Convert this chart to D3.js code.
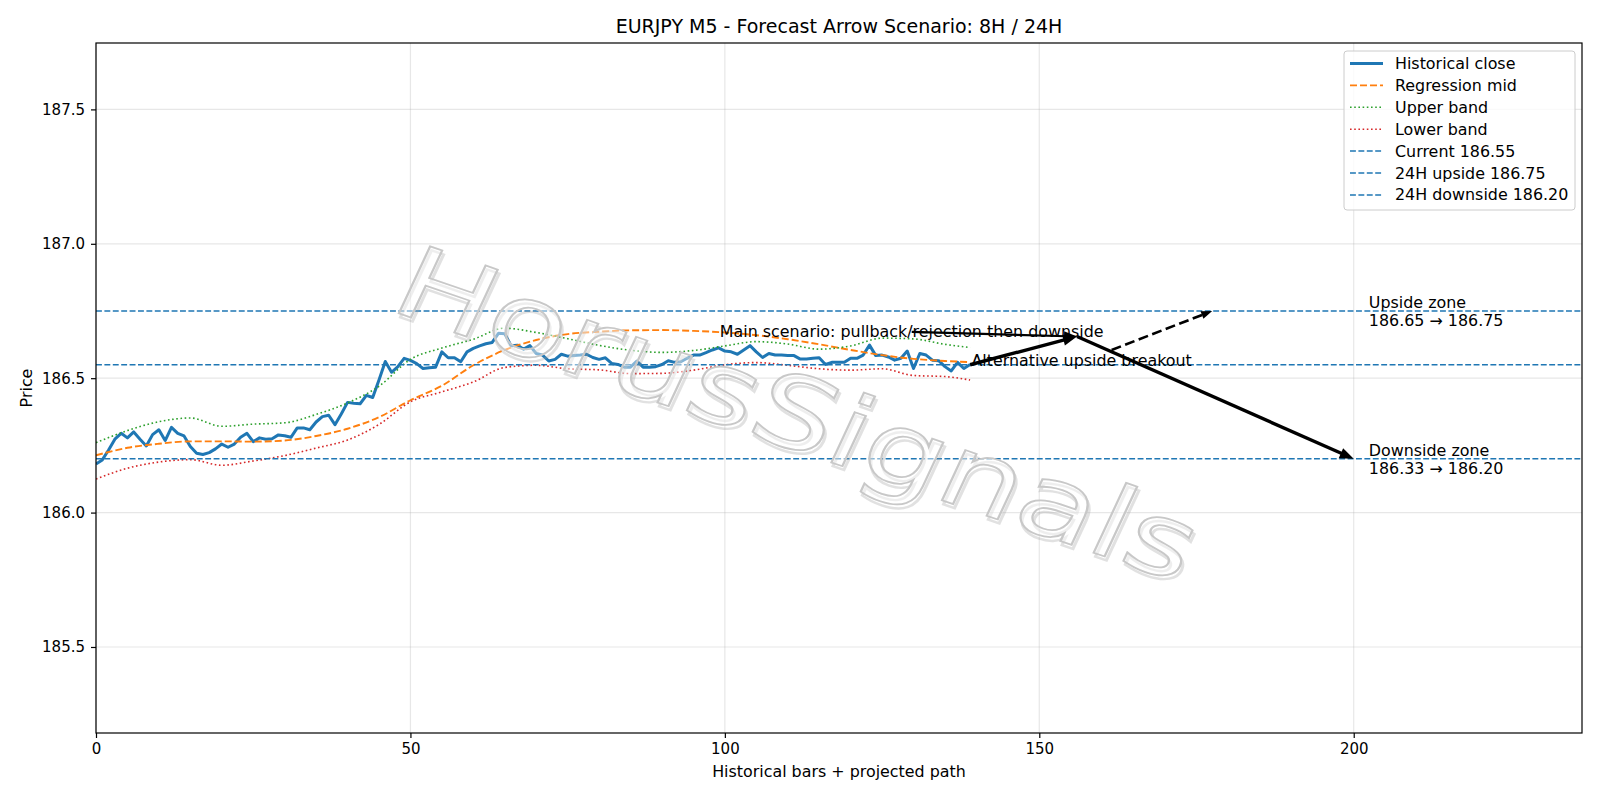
<!DOCTYPE html>
<html>
<head>
<meta charset="utf-8">
<script src="https://cdn.jsdelivr.net/npm/d3@7/dist/d3.min.js"></script>
<style>
  body { margin: 0; background: #ffffff; }
  svg text { font-family: 'DejaVu Sans', sans-serif; fill: #000; }
  .grid line { stroke: #b0b0b0; stroke-opacity: 0.3; stroke-width: 1.2; }
  .axis path { display: none; }
  .axis line { stroke: #000; stroke-width: 1.2; }
  .axis text { font-size: 15px; }
</style>
</head>
<body>
<script>
// historical close, one value per bar (0..139)
var closeValues = [
  186.181, 186.196, 186.233, 186.273, 186.295, 186.278, 186.300, 186.273, 186.248, 186.290,
  186.308, 186.268, 186.317, 186.295, 186.285, 186.246, 186.221, 186.216, 186.223, 186.237,
  186.255, 186.243, 186.255, 186.280, 186.295, 186.264, 186.278, 186.273, 186.275, 186.289,
  186.286, 186.280, 186.315, 186.315, 186.308, 186.337, 186.357, 186.362, 186.327, 186.367,
  186.410, 186.407, 186.405, 186.436, 186.428, 186.493, 186.562, 186.522, 186.543, 186.574,
  186.566, 186.554, 186.536, 186.539, 186.541, 186.598, 186.576, 186.576, 186.561, 186.598,
  186.611, 186.620, 186.628, 186.633, 186.667, 186.665, 186.621, 186.623, 186.608, 186.621,
  186.592, 186.586, 186.564, 186.570, 186.589, 186.582, 186.584, 186.586, 186.589, 186.577,
  186.570, 186.576, 186.555, 186.551, 186.541, 186.541, 186.564, 186.541, 186.541, 186.543,
  186.551, 186.565, 186.559, 186.561, 186.574, 186.586, 186.586, 186.595, 186.605, 186.613,
  186.601, 186.598, 186.589, 186.605, 186.621, 186.598, 186.577, 186.592, 186.586, 186.586,
  186.584, 186.584, 186.571, 186.571, 186.574, 186.576, 186.551, 186.559, 186.559, 186.559,
  186.574, 186.574, 186.586, 186.623, 186.584, 186.586, 186.579, 186.567, 186.574, 186.601,
  186.536, 186.592, 186.586, 186.567, 186.565, 186.543, 186.527, 186.559, 186.536, 186.551
];

// regression channel, read every 5 bars
var bandBars = [0, 5, 10, 15, 20, 25, 30, 35, 40, 45, 50, 55, 60, 65, 70, 75, 80, 85, 90, 95,
  100, 105, 110, 115, 120, 125, 130, 135, 139];
var midValues = [186.213, 186.241, 186.256, 186.265, 186.265, 186.264, 186.268, 186.285, 186.312, 186.355,
  186.418, 186.472, 186.548, 186.605, 186.642, 186.664, 186.673, 186.678, 186.679, 186.676,
  186.670, 186.660, 186.645, 186.626, 186.605, 186.586, 186.572, 186.564, 186.560];
var upperValues = [186.260, 186.305, 186.338, 186.352, 186.321, 186.329, 186.334, 186.365, 186.408, 186.470,
  186.570, 186.612, 186.645, 186.686, 186.670, 186.647, 186.622, 186.604, 186.596, 186.603,
  186.620, 186.636, 186.627, 186.608, 186.620, 186.649, 186.646, 186.626, 186.614];
var lowerValues = [186.125, 186.165, 186.188, 186.197, 186.176, 186.192, 186.212, 186.240, 186.270, 186.328,
  186.412, 186.449, 186.486, 186.540, 186.548, 186.535, 186.531, 186.517, 186.518, 186.530,
  186.550, 186.558, 186.548, 186.535, 186.530, 186.535, 186.510, 186.506, 186.493];

// reference levels
var levelNames = ['Current 186.55', '24H upside 186.75', '24H downside 186.20'];
var levelValues = [186.55, 186.75, 186.20];

// projected path: current -> rejection point -> downside target
var pathBars = [139, 156, 200];
var pathPrices = [186.55, 186.655, 186.20];
// alternative breakout arrow
var altBars = [161.5, 177.5];
var altPrices = [186.605, 186.75];

var xTicks = [0, 50, 100, 150, 200];
var yTicks = [185.5, 186.0, 186.5, 187.0, 187.5];

var W = 1600, H = 800;
var m = { top: 43, right: 18, bottom: 67, left: 96 };
var fs = 15.9;

var svg = d3.select('body').append('svg')
  .attr('width', W).attr('height', H);

var x = d3.scaleLinear().domain([0, 236.3]).range([m.left, W - m.right]);
var y = d3.scaleLinear().domain([185.18, 187.747]).range([H - m.bottom, m.top]);

var blue = '#1f77b4';

//grid
svg.append('g').attr('class', 'grid')
  .selectAll('line.gx').data(xTicks).enter().append('line')
  .attr('x1', d => x(d)).attr('x2', d => x(d))
  .attr('y1', m.top).attr('y2', H - m.bottom);
svg.append('g').attr('class', 'grid')
  .selectAll('line.gy').data(yTicks).enter().append('line')
  .attr('x1', m.left).attr('x2', W - m.right)
  .attr('y1', d => y(d)).attr('y2', d => y(d));

//axes
svg.append('g').attr('class', 'axis')
  .attr('transform', `translate(0, ${H - m.bottom})`)
  .call(d3.axisBottom(x).tickValues(xTicks).tickSize(5).tickPadding(5).tickFormat(d3.format('d')));
svg.append('g').attr('class', 'axis')
  .attr('transform', `translate(${m.left}, 0)`)
  .call(d3.axisLeft(y).tickValues(yTicks).tickSize(5).tickPadding(6).tickFormat(d3.format('.1f')));

// clip for data
svg.append('clipPath').attr('id', 'clip').append('rect')
  .attr('x', m.left).attr('y', m.top)
  .attr('width', W - m.left - m.right).attr('height', H - m.top - m.bottom);
var plot = svg.append('g').attr('clip-path', 'url(#clip)');

var line = d3.line().x(d => x(d[0])).y(d => y(d[1]));
var smooth = d3.line().x(d => x(d[0])).y(d => y(d[1])).curve(d3.curveMonotoneX);

var closePts = closeValues.map((v, i) => [i, v]);
var midPts = bandBars.map((b, i) => [b, midValues[i]]);
var upPts = bandBars.map((b, i) => [b, upperValues[i]]);
var lowPts = bandBars.map((b, i) => [b, lowerValues[i]]);

var series = [
  { name: 'Historical close', color: blue, width: 3, dash: null },
  { name: 'Regression mid', color: '#ff7f0e', width: 1.9, dash: '7,3' },
  { name: 'Upper band', color: '#2ca02c', width: 1.6, dash: '1.6,2.6' },
  { name: 'Lower band', color: '#d62728', width: 1.6, dash: '1.6,2.6' }
];

plot.append('path').datum(closePts)
  .attr('d', line).attr('fill', 'none')
  .attr('stroke', blue).attr('stroke-width', series[0].width).attr('stroke-linejoin', 'round');
plot.append('path').datum(midPts)
  .attr('d', smooth).attr('fill', 'none')
  .attr('stroke', series[1].color).attr('stroke-width', series[1].width)
  .attr('stroke-dasharray', series[1].dash);
plot.append('path').datum(upPts)
  .attr('d', smooth).attr('fill', 'none')
  .attr('stroke', series[2].color).attr('stroke-width', series[2].width)
  .attr('stroke-dasharray', series[2].dash);
plot.append('path').datum(lowPts)
  .attr('d', smooth).attr('fill', 'none')
  .attr('stroke', series[3].color).attr('stroke-width', series[3].width)
  .attr('stroke-dasharray', series[3].dash);

//level lines
plot.selectAll('line.level').data(levelValues).enter().append('line')
  .attr('class', 'level')
  .attr('x1', m.left).attr('x2', W - m.right)
  .attr('y1', d => y(d)).attr('y2', d => y(d))
  .attr('stroke', blue).attr('stroke-width', 1.5)
  .attr('stroke-dasharray', '5.9,2.5');

// arrow helper
function arrow(g, x0, y0, x1, y1, width, headL, headW, dash) {
  var ang = Math.atan2(y1 - y0, x1 - x0);
  var bx = x1 - Math.cos(ang) * headL * 0.8, by = y1 - Math.sin(ang) * headL * 0.8;
  g.append('line')
    .attr('x1', x0).attr('y1', y0).attr('x2', bx).attr('y2', by)
    .attr('stroke', '#000').attr('stroke-width', width)
    .attr('stroke-dasharray', dash || null);
  var px = -Math.sin(ang), py = Math.cos(ang);
  var hx = x1 - Math.cos(ang) * headL, hy = y1 - Math.sin(ang) * headL;
  g.append('path')
    .attr('d', `M${x1},${y1}L${hx + px * headW / 2},${hy + py * headW / 2}L${hx - px * headW / 2},${hy - py * headW / 2}Z`)
    .attr('fill', '#000');
}

var ann = svg.append('g');

// main scenario label + its connector
var mainText = ann.append('text')
  .attr('x', x(99.2)).attr('y', y(186.672))
  .attr('dominant-baseline', 'central')
  .style('font-size', fs + 'px')
  .text('Main scenario: pullback/rejection then downside');
var mb = mainText.node().getBBox();
arrow(ann, mb.x + mb.width / 2, mb.y + mb.height / 2, x(pathBars[1]), y(pathPrices[1]), 2.2, 13, 10);

ann.append('text')
  .attr('x', x(139.2)).attr('y', y(186.567))
  .attr('dominant-baseline', 'central')
  .style('font-size', fs + 'px')
  .text('Alternative upside breakout');

// path legs
arrow(ann, x(pathBars[0]), y(pathPrices[0]), x(pathBars[1]), y(pathPrices[1]), 3.4, 14, 11);
arrow(ann, x(pathBars[1]), y(pathPrices[1]), x(pathBars[2]), y(pathPrices[2]), 3.4, 14, 11);
arrow(ann, x(altBars[0]), y(altPrices[0]), x(altBars[1]), y(altPrices[1]), 2.6, 11, 8, '10,4.5');

// zone labels
var zones = [
  { bar: 202.4, price: 186.75, lines: ['Upside zone', '186.65 \u2192 186.75'] },
  { bar: 202.4, price: 186.20, lines: ['Downside zone', '186.33 \u2192 186.20'] }
];
zones.forEach(z => {
  var t = ann.append('text')
    .attr('x', x(z.bar)).attr('y', y(z.price) - 9)
    .attr('dominant-baseline', 'central')
    .style('font-size', fs + 'px');
  z.lines.forEach((s, i) => {
    t.append('tspan').attr('x', x(z.bar)).attr('dy', i === 0 ? 0 : 18).text(s);
  });
});

// watermark
var wm = svg.append('g').attr('transform', 'translate(798,414) rotate(19) skewX(-6) scale(1.02,0.8)');
wm.append('text')
  .attr('x', 3).attr('y', 4)
  .attr('text-anchor', 'middle').attr('dominant-baseline', 'central')
  .style('font-size', '126px')
  .style('fill', 'none').style('stroke', '#9a9a9a').style('stroke-width', 3)
  .style('stroke-opacity', 0.3)
  .text('HorusSignals');
wm.append('text')
  .attr('text-anchor', 'middle').attr('dominant-baseline', 'central')
  .style('font-size', '126px')
  .style('fill', '#ffffff').style('fill-opacity', 0.45)
  .style('stroke', '#c8c8c8').style('stroke-width', 2.2)
  .text('HorusSignals');

// frame
svg.append('rect')
  .attr('x', m.left).attr('y', m.top)
  .attr('width', W - m.left - m.right).attr('height', H - m.top - m.bottom)
  .attr('fill', 'none').attr('stroke', '#000').attr('stroke-width', 1.2);

// legend
var legendItems = series.concat(levelNames.map(n => ({ name: n, color: blue, width: 1.5, dash: '5.9,2.5' })));
var lg = svg.append('g').attr('transform', 'translate(1344, 51)');
lg.append('rect')
  .attr('width', 231).attr('height', 159).attr('rx', 3)
  .attr('fill', '#fff').attr('fill-opacity', 0.8)
  .attr('stroke', '#cccccc').attr('stroke-width', 1);
var row = lg.selectAll('g.row').data(legendItems).enter().append('g')
  .attr('transform', (d, i) => `translate(0, ${12.5 + i * 21.9})`);
row.append('line')
  .attr('x1', 6).attr('x2', 39)
  .attr('stroke', d => d.color).attr('stroke-width', d => d.width)
  .attr('stroke-dasharray', d => d.dash);
row.append('text')
  .attr('x', 51).attr('dominant-baseline', 'central')
  .style('font-size', fs + 'px')
  .text(d => d.name);

// titles
svg.append('text')
  .attr('x', (m.left + W - m.right) / 2).attr('y', 26)
  .attr('text-anchor', 'middle').attr('dominant-baseline', 'central')
  .style('font-size', '19px')
  .text('EURJPY M5 - Forecast Arrow Scenario: 8H / 24H');
svg.append('text')
  .attr('x', (m.left + W - m.right) / 2).attr('y', 771)
  .attr('text-anchor', 'middle').attr('dominant-baseline', 'central')
  .style('font-size', fs + 'px')
  .text('Historical bars + projected path');
svg.append('text')
  .attr('transform', `translate(26, ${(m.top + H - m.bottom) / 2}) rotate(-90)`)
  .attr('text-anchor', 'middle').attr('dominant-baseline', 'central')
  .style('font-size', fs + 'px')
  .text('Price');
</script>
</body>
</html>
